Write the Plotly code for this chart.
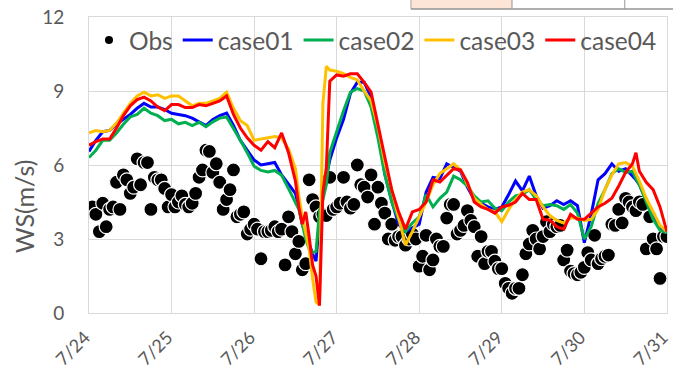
import pandas as pd
import plotly.graph_objects as go

# ---- data -------------------------------------------------------------
start = pd.Timestamp("2019-07-24")
day_labels = ["7/24", "7/25", "7/26", "7/27", "7/28", "7/29", "7/30", "7/31"]
y_ticks = [0, 3, 6, 9, 12]

# hourly observed wind speed (m/s), 7/24 00:00 .. 7/31 00:00
obs_ws = [
    4.1, 4.3, 4.0, 3.3, 4.45, 3.5, 4.2, 4.3, 5.3, 4.2, 5.6, 5.4, 4.85, 5.1, 6.25, 5.2, 6.1, 6.1, 4.2, 5.5, 5.4, 5.4, 5.05, 4.3,
    4.8, 4.3, 4.5, 4.75, 4.4, 4.3, 4.45, 4.85, 5.5, 5.8, 6.6, 6.55, 5.7, 6.05, 5.3, 4.2, 4.6, 5.0, 5.8, 3.9, 4.0, 4.1, 3.2, 3.4,
    3.6, 3.4, 2.2, 3.3, 3.3, 3.35, 3.5, 3.3, 3.4, 1.95, 3.9, 3.3, 2.4, 2.9, 1.75, 2.0, 5.4, 4.6, 4.3, 3.9, 4.0, 3.95, 5.5, 4.2,
    4.3, 4.45, 5.5, 4.5, 4.25, 4.4, 6.0, 5.2, 5.1, 4.7, 5.6, 3.6, 5.1, 4.45, 4.05, 3.0, 3.6, 2.95, 3.1, 3.1, 2.75, 3.0, 3.2, 3.0,
    1.9, 2.3, 3.15, 1.75, 2.15, 3.0, 2.7, 2.7, 3.85, 4.4, 4.4, 3.2, 3.35, 3.55, 4.15, 3.75, 3.5, 2.3, 3.1, 2.0, 2.5, 2.5, 2.1, 1.8,
    1.8, 1.2, 1.0, 0.8, 1.0, 1.0, 1.55, 2.4, 2.8, 3.35, 3.0, 2.6, 3.1, 3.7, 3.3, 3.6, 3.5, 3.55, 2.15, 2.55, 1.7, 1.6, 1.55, 1.65,
    1.85, 2.45, 2.15, 3.15, 2.0, 2.2, 2.3, 2.35, 3.6, 3.55, 4.2, 3.65, 4.65, 4.5, 4.3, 4.15, 4.5, 4.4, 2.6, 3.9, 3.0, 2.6, 1.4, 3.1,
    3.1,
]

# model output hours since 7/24 00:00 (hourly around the 7/26 evening front)
model_hours = (
    list(range(0, 60, 2)) + list(range(60, 71)) + list(range(72, 158, 2))
    + [158, 159, 160, 162, 164, 166, 168]
)

case01 = [
    6.55, 7.0, 7.35, 7.4, 7.65, 7.85, 8.05, 8.3, 8.5, 8.35, 8.35, 8.25, 8.1, 8.05, 8.0, 7.9, 7.75, 7.6, 7.85, 8.0, 8.1, 7.6, 7.0, 6.6, 6.2, 6.0, 6.05, 6.1, 5.6, 5.2,
    4.85, 4.3, 3.6, 3.2, 2.8, 2.4, 2.1, 3.8, 4.9, 5.6, 6.2,
    7.1, 7.85, 8.9, 9.35, 9.35, 8.75, 7.5, 5.65, 4.55, 3.6, 3.3, 3.45, 3.6, 4.9, 5.5, 5.45, 6.05, 5.9, 5.75, 5.1, 4.6, 4.45, 4.3, 4.2, 4.3, 4.8, 5.35, 4.95, 5.55, 4.75, 4.25, 4.35, 4.55, 4.4, 4.55, 4.35, 2.85, 4.0, 5.4, 5.65, 6.05, 5.75, 5.85,
    5.55, 5.4, 5.2, 4.55, 3.95, 3.4, 3.25,
]
case02 = [
    6.3, 6.6, 7.0, 7.0, 7.3, 7.65, 7.95, 8.05, 8.3, 8.1, 8.0, 7.8, 7.85, 7.67, 7.73, 7.6, 7.73, 7.55, 7.75, 7.9, 7.95, 7.5, 7.0, 6.5, 5.95, 5.78, 5.72, 5.78, 5.58, 5.04,
    4.5, 4.2, 3.6, 3.0, 2.6, 2.45, 2.5, 4.1, 4.6, 5.2, 6.5,
    7.4, 8.2, 8.95, 9.1, 9.0, 8.35, 7.1, 5.6, 4.5, 3.8, 3.3, 3.65, 3.9, 4.8, 4.3, 4.65, 4.9, 5.55, 5.4, 5.15, 4.75, 4.5, 4.55, 4.25, 4.15, 4.5, 4.75, 4.8, 5.0, 4.6, 4.35, 4.4, 4.35, 4.2, 4.4, 4.05, 3.0, 3.5, 4.45, 5.0, 5.65, 5.85, 5.7,
    5.75, 5.45, 5.2, 4.5, 3.8, 3.35, 3.25,
]
case03 = [
    7.3, 7.4, 7.35, 7.4, 7.7, 8.1, 8.5, 8.8, 8.95, 8.8, 8.85, 8.7, 8.8, 8.8, 8.6, 8.4, 8.5, 8.5, 8.6, 8.7, 8.95, 8.3, 7.8, 7.6, 7.0, 7.05, 7.1, 7.15, 7.1, 6.65,
    5.85, 4.75, 3.9, 3.2, 2.6, 1.4, 0.45, 0.33, 8.5, 10.0, 9.85,
    9.8, 9.7, 9.55, 9.45, 9.0, 8.6, 7.55, 6.1, 5.0, 3.9, 2.75, 3.3, 3.9, 4.5, 5.2, 5.65, 5.85, 6.05, 5.8, 5.2, 4.65, 4.4, 4.2, 4.1, 3.7, 4.2, 4.6, 4.9, 5.0, 4.75, 4.3, 3.95, 3.75, 3.65, 3.85, 3.85, 3.75, 3.8, 4.2, 5.0, 5.6, 6.05, 6.1,
    5.95, 5.65, 5.35, 4.65, 4.1, 3.55, 3.3,
]
case04 = [
    6.8, 6.95, 7.05, 7.05, 7.5, 8.0, 8.4, 8.65, 8.75, 8.6, 8.35, 8.2, 8.45, 8.45, 8.33, 8.33, 8.45, 8.4, 8.5, 8.6, 8.8, 8.05, 7.5, 7.1, 6.8, 6.6, 6.95, 6.7, 7.3, 6.5,
    5.36, 4.3, 3.6, 4.1, 3.1, 1.95, 1.5, 0.3, 4.9, 5.9, 9.4,
    9.65, 9.6, 9.7, 9.7, 9.35, 8.95, 7.6, 6.4, 5.0, 4.1, 3.4, 4.1, 4.2, 4.5, 5.4, 5.31, 5.6, 5.85, 5.8, 5.3, 4.5, 4.3, 4.2, 4.05, 4.3, 4.37, 4.5, 4.85, 4.6, 4.6, 3.8, 3.76, 3.5, 3.4, 4.0, 3.8, 3.8, 4.05, 4.3, 4.45, 4.65, 5.15, 5.7,
    6.05, 6.5, 5.75, 5.3, 5.0, 4.3, 3.3,
]

obs_time = start + pd.to_timedelta(range(len(obs_ws)), unit="h")
model_time = start + pd.to_timedelta(model_hours, unit="h")
day_ticks = pd.date_range(start, periods=len(day_labels), freq="D")

# ---- styling ----------------------------------------------------------
FONT = "Lato"
TEXT = "#595959"
GRID = "#d9d9d9"

series = [
    ("case01", case01, "#0000ff"),
    ("case02", case02, "#00b050"),
    ("case03", case03, "#ffc000"),
    ("case04", case04, "#ff0000"),
]

fig = go.Figure()

# observations (legend entry drawn by a small proxy marker)
fig.add_trace(go.Scatter(
    x=obs_time, y=obs_ws, mode="markers", name="Obs", showlegend=False,
    marker=dict(color="black", size=14, line=dict(color="white", width=1.2)),
))
fig.add_trace(go.Scatter(
    x=[None], y=[None], mode="markers", name="Obs",
    marker=dict(color="black", size=8),
))

for name, vals, color in series:
    fig.add_trace(go.Scatter(
        x=model_time, y=vals, mode="lines", name=name,
        line=dict(color=color, width=3),
    ))

# spreadsheet cells peeking above the chart area
cells = [
    (0.557, 0.732, "#fce4d6"),
    (0.732, 0.927, "white"),
    (0.927, 1.02, "white"),
]
for x0, x1, fill in cells:
    fig.add_shape(type="rect", xref="paper", yref="paper",
                  x0=x0, x1=x1, y0=1.027, y1=1.10,
                  fillcolor=fill, line=dict(color="#a6a6a6", width=1), layer="below")
fig.add_shape(type="line", xref="paper", yref="paper",
              x0=0.557, x1=1.02, y0=1.027, y1=1.027,
              line=dict(color="#8c8c8c", width=1.2))

fig.add_annotation(
    text="WS(m/s)", xref="paper", yref="paper", x=-0.111, y=0.36,
    xanchor="center", yanchor="middle",
    textangle=-90, showarrow=False, font=dict(family=FONT, size=25, color=TEXT),
)

x_end = day_ticks[-1] + pd.Timedelta(minutes=2)

fig.update_layout(
    width=673, height=372,
    margin=dict(l=89, r=6, t=17, b=59, autoexpand=False),
    paper_bgcolor="white", plot_bgcolor="white",
    font=dict(family=FONT, color=TEXT),
    showlegend=True,
    legend=dict(
        orientation="h", x=0.0, xanchor="left", y=0.922, yanchor="middle",
        font=dict(family=FONT, size=24.5, color=TEXT),
        bgcolor="rgba(0,0,0,0)", itemwidth=30, borderwidth=0,
    ),
    xaxis=dict(
        type="date", range=[day_ticks[0], x_end], automargin=False,
        tickvals=day_ticks, ticktext=day_labels, tickangle=-45,
        tickfont=dict(family=FONT, size=18, color=TEXT),
        ticklabeloverflow="allow", ticklabelshift=-4,
        showgrid=True, gridcolor=GRID, gridwidth=1,
        showline=True, linecolor=GRID, linewidth=1, mirror=True,
        ticks="outside", ticklen=6, tickcolor="rgba(0,0,0,0)",
        zeroline=False,
    ),
    yaxis=dict(
        range=[0, 12], tickvals=y_ticks, automargin=False,
        tickfont=dict(family=FONT, size=19, color=TEXT),
        showgrid=True, gridcolor=GRID, gridwidth=1,
        showline=True, linecolor=GRID, linewidth=1, mirror=True,
        ticks="outside", ticklen=20, tickcolor="rgba(0,0,0,0)",
        zeroline=False,
    ),
)

fig.write_html("out.html")
